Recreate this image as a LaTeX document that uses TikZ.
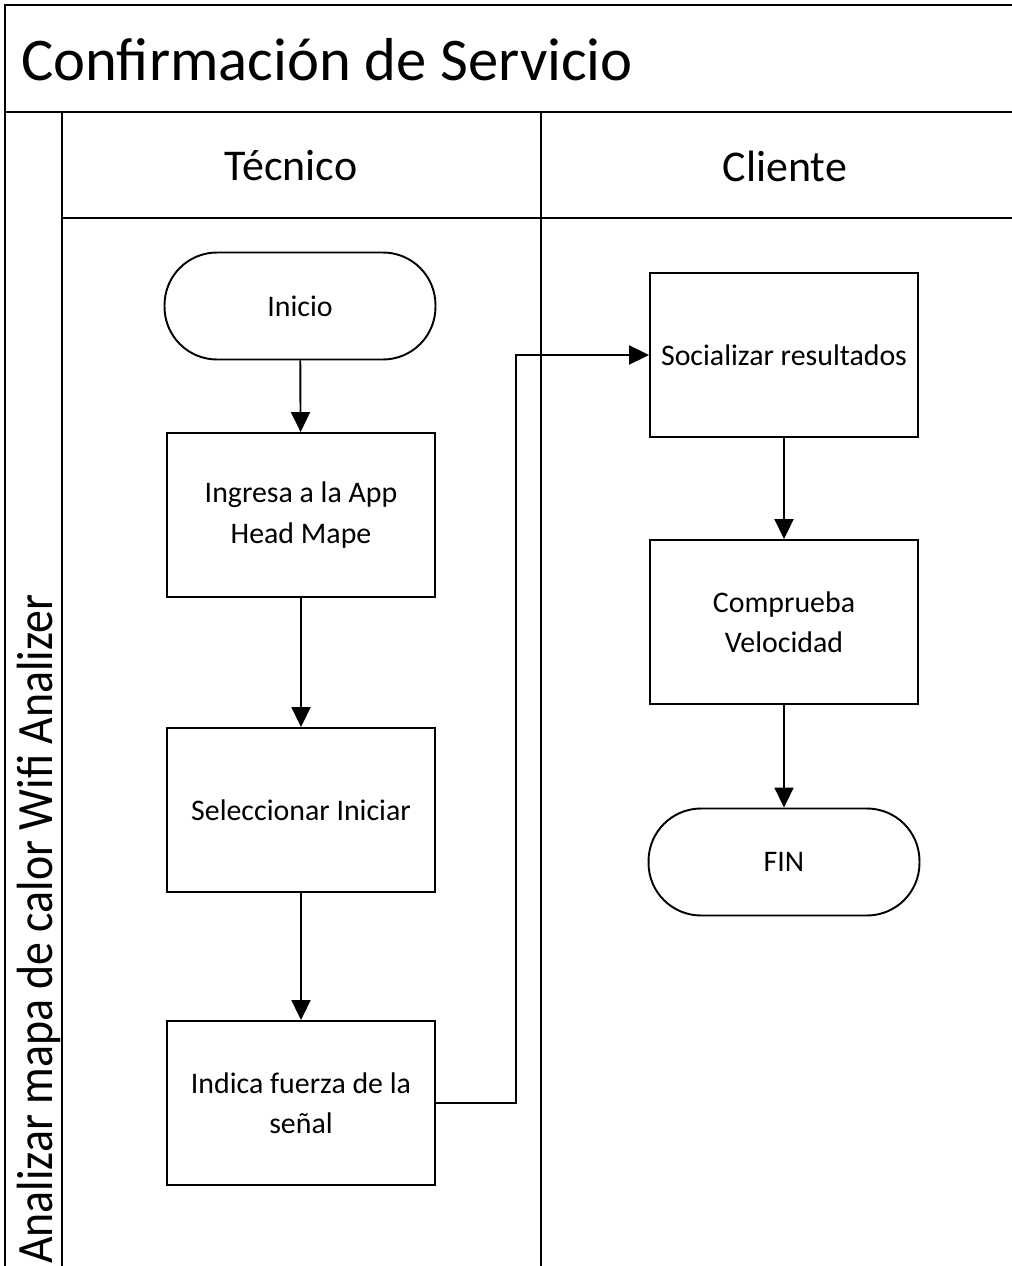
\documentclass[tikz,border=0pt]{standalone}
\usepackage{fontspec}
\setmainfont{Carlito}
\newfontfamily\lanefont[FakeStretch=0.9]{Carlito}
\usetikzlibrary{arrows.meta,positioning}

\tikzset{
  lane/.style={line width=1.1pt},
  proc/.style={draw, line width=1.1pt, minimum width=5.36cm, minimum height=3.28cm,
    align=center, font=\fontsize{17}{23}\selectfont},
  term/.style={draw, line width=1.1pt, rounded corners=1.05cm, minimum width=5.42cm,
    minimum height=2.14cm, font=\fontsize{17}{23}\selectfont},
  flow/.style={->, line width=1.1pt},
}

\begin{document}
\begin{tikzpicture}[x=0.02cm,y=-0.02cm,>={Triangle[length=0.4cm,width=0.38cm]}]
      \useasboundingbox (0,0) rectangle (1011,1266);
      % pool frame, title band and lanes
      \draw[lane] (1030,5) -| (5,1280);
      \draw[lane] (5,112) -- (1030,112);
      \draw[lane] (62,112) -- (62,1280);
      \draw[lane] (62,218) -- (1030,218);
      \draw[lane] (541,112) -- (541,1280);
      \node[anchor=west, font=\fontsize{34.5}{40}\selectfont] at (15,60) (titulo) {Confirmación de Servicio};
      \node[font=\fontsize{25}{30}\selectfont] at (291,166) (tecnico) {Técnico};
      \node[font=\fontsize{25}{30}\selectfont] at (785,166) (cliente) {Cliente};
      \node[rotate=90, anchor=west, font=\lanefont\fontsize{29}{34}\selectfont] at (39,1270) (fase) {Analizar mapa de calor Wifi Analizer};
      % steps
      \node[term] at (300,306) (inicio) {Inicio};
      \node[proc] at (301,515) (app) {Ingresa a la App\\Head Mape};
      \node[proc] at (301,810) (selec) {Seleccionar Iniciar};
      \node[proc] at (301,1103) (fuerza) {Indica fuerza de la\\señal};
      \node[proc] at (784,355) (social) {Socializar resultados};
      \node[proc] at (784,622) (veloc) {Comprueba\\Velocidad};
      \node[term] at (784,862) (fin) {FIN};
      \draw[flow] (inicio) -- (app);
      \draw[flow] (app) -- (selec);
      \draw[flow] (selec) -- (fuerza);
      \draw[flow] (fuerza.east) -- ++(80,0) |- (social);
      \draw[flow] (social) -- (veloc);
      \draw[flow] (veloc) -- (fin);
\end{tikzpicture}
\end{document}
